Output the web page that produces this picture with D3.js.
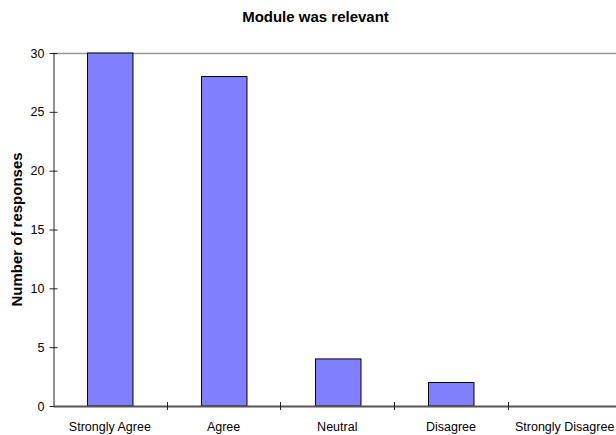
<!DOCTYPE html>
<html>
<head>
<meta charset="utf-8">
<script src="https://cdn.jsdelivr.net/npm/d3@7"></script>
<style>
  html, body { margin: 0; padding: 0; background: #fff; }
  svg { display: block; font-family: "Liberation Sans", Arial, sans-serif; }
</style>
</head>
<body>
<svg id="chart" width="616" height="435"></svg>
<script>
// Survey answers and their counts
const categories = ["Strongly Agree", "Agree", "Neutral", "Disagree", "Strongly Disagree"];
const responses = [30, 28, 4, 2, 0];
const yTicks = [0, 5, 10, 15, 20, 25, 30];
const chartTitle = "Module was relevant";
const yTitle = "Number of responses";

const svg = d3.select("#chart");
const plot = { left: 53, right: 621.5, top: 53, bottom: 406 };

const x = d3.scaleBand()
  .domain(categories)
  .range([plot.left, plot.right])
  .paddingInner(0.6)
  .paddingOuter(0.3);

const y = d3.scaleLinear()
  .domain([0, 30])
  .range([plot.bottom, plot.top]);

// plot area top border
svg.append("line")
  .attr("x1", plot.left).attr("x2", plot.right)
  .attr("y1", plot.top + 0.5).attr("y2", plot.top + 0.5)
  .attr("stroke", "#999").attr("stroke-width", 1.5);

// bars
const data = categories.map((c, i) => ({ c, v: responses[i] }));
svg.append("g").selectAll("rect")
  .data(data.filter(d => d.v > 0))
  .join("rect")
  .attr("x", d => Math.round(x(d.c)) + 0.5)
  .attr("y", d => y(d.v))
  .attr("width", x.bandwidth())
  .attr("height", d => y(0) - y(d.v))
  .attr("fill", "#8080ff")
  .attr("stroke", "#000")
  .attr("stroke-width", 1);

// y axis
const yAxis = svg.append("g")
  .attr("transform", `translate(${plot.left + 0.5},0)`)
  .call(d3.axisLeft(y).tickValues(yTicks).tickSize(0).tickPadding(9));
yAxis.select(".domain").attr("stroke", "#222");
yAxis.selectAll(".tick line").remove();
yAxis.selectAll(".tick").append("line")
  .attr("x1", -4).attr("x2", 4)
  .attr("stroke", "#222");
yAxis.selectAll(".tick text")
  .attr("font-size", "12.5px")
  .attr("fill", "#000")
  .attr("font-family", "Liberation Sans, Arial, sans-serif");

// x axis: ticks sit on category boundaries
const xAxis = svg.append("g")
  .attr("transform", `translate(0,${plot.bottom})`)
  .call(d3.axisBottom(x).tickSize(0).tickPadding(16));
xAxis.select(".domain").attr("stroke", "#555").attr("stroke-width", 2);
xAxis.selectAll(".tick text")
  .attr("font-size", "12.5px")
  .attr("fill", "#000")
  .attr("font-family", "Liberation Sans, Arial, sans-serif");
const step = x.step();
const bounds = d3.range(categories.length + 1).map(i => plot.left + i * step);
xAxis.append("g").selectAll("line")
  .data(bounds.slice(1))
  .join("line")
  .attr("x1", d => Math.round(d) + 0.5).attr("x2", d => Math.round(d) + 0.5)
  .attr("y1", -4).attr("y2", 4)
  .attr("stroke", "#222");

// titles
svg.append("text")
  .attr("x", 315.5).attr("y", 22)
  .attr("text-anchor", "middle")
  .attr("font-size", "15px").attr("font-weight", "bold")
  .text(chartTitle);

svg.append("text")
  .attr("transform", `translate(21.5,${(plot.top + plot.bottom) / 2}) rotate(-90)`)
  .attr("text-anchor", "middle")
  .attr("font-size", "15px").attr("font-weight", "bold")
  .text(yTitle);
</script>
</body>
</html>
